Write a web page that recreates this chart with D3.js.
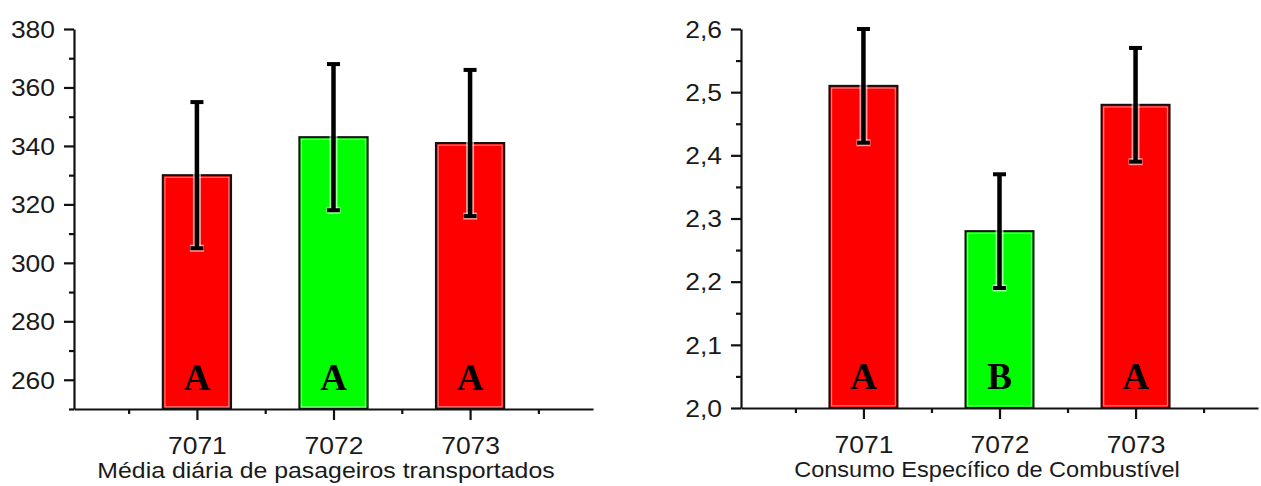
<!DOCTYPE html>
<html>
<head>
<meta charset="utf-8">
<script src="https://cdn.jsdelivr.net/npm/d3@7"></script>
<style>
  html, body { margin: 0; padding: 0; background: #fff; }
  svg { display: block; }
  .tick text { font-family: "Liberation Sans", Arial, sans-serif; fill: #1a1a1a; }
</style>
</head>
<body>
<svg id="chart" width="1261" height="486"></svg>
<script>
// Routes and their group letters
const routes = [7071, 7072, 7073];
const groupsPassengers = ["A", "A", "A"];
const groupsFuel = ["A", "B", "A"];
const barColors = ["#ff0000", "#00ff00", "#ff0000"];

// Average daily passengers carried, with standard deviation
const passengersMean = [330, 343, 341];
const passengersSd = [25, 25, 25];

// Specific fuel consumption, with standard deviation
const fuelMean = [2.51, 2.28, 2.48];
const fuelSd = [0.09, 0.09, 0.09];

// Axis ticks
const passengersMajor = [260, 280, 300, 320, 340, 360, 380];
const passengersMinor = [250, 270, 290, 310, 330, 350, 370];
const fuelMajor = [2.0, 2.1, 2.2, 2.3, 2.4, 2.5, 2.6];
const fuelMinor = [2.05, 2.15, 2.25, 2.35, 2.45, 2.55];
const routeMinor = [7070.5, 7071.5, 7072.5, 7073.5];

const passengersTitle = "Média diária de pasageiros transportados";
const fuelTitle = "Consumo Específico de Combustível";

const svg = d3.select("#chart");
const commaFmt = d => d3.format(".1f")(d).replace(".", ",");
const STRETCH = 1.15; // the sans-serif text is set slightly wide

// Widen tick labels horizontally around their anchor point
function widen(texts, s) {
  texts.each(function () {
    const t = d3.select(this);
    const tx = +t.attr("x") || 0;
    t.attr("x", 0).attr("transform", `translate(${tx},0) scale(${s},1)`);
  });
}

function panel(cfg) {
  const g = svg.append("g");
  const x = d3.scaleLinear().domain([7070.1, 7073.9]).range([cfg.x0, cfg.x1]);
  const y = d3.scaleLinear().domain(cfg.yDomain).range([cfg.yBottom, cfg.yTop]);
  const step = x(7072) - x(7071);
  const barW = step * 0.5;

  // Bars
  const bars = g.append("g");
  routes.forEach((r, i) => {
    const bx = x(r) - barW / 2;
    const by = y(cfg.mean[i]);
    const bh = y(cfg.yDomain[0]) - by;
    bars.append("rect")
      .attr("x", bx).attr("y", by).attr("width", barW).attr("height", bh)
      .attr("fill", barColors[i]).attr("stroke", "#111").attr("stroke-width", 2);
    bars.append("rect")
      .attr("x", bx + 2.2).attr("y", by + 2.2).attr("width", barW - 4.4).attr("height", bh - 4.4)
      .attr("fill", "none").attr("stroke", "#fff").attr("stroke-opacity", 0.55).attr("stroke-width", 1);
  });

  // Group letters
  routes.forEach((r, i) => {
    g.append("text")
      .attr("x", x(r)).attr("y", cfg.yBottom - 19)
      .attr("text-anchor", "middle")
      .attr("font-family", "'Liberation Serif', 'Times New Roman', serif")
      .attr("font-weight", "bold").attr("font-size", 37)
      .attr("fill", "#000")
      .text(cfg.groups[i]);
  });

  // Error bars
  const err = g.append("g");
  routes.forEach((r, i) => {
    const cx = x(r);
    const yt = y(cfg.mean[i] + cfg.sd[i]);
    const yb = y(cfg.mean[i] - cfg.sd[i]);
    const halo = (sel, w) => sel.attr("stroke", "#fff").attr("stroke-opacity", 0.6).attr("stroke-width", w);
    halo(err.append("line").attr("x1", cx).attr("x2", cx).attr("y1", yt).attr("y2", yb), 8);
    halo(err.append("line").attr("x1", cx - 7).attr("x2", cx + 7).attr("y1", yb).attr("y2", yb), 7);
    err.append("line").attr("x1", cx).attr("x2", cx).attr("y1", yt).attr("y2", yb)
      .attr("stroke", "#000").attr("stroke-width", 4.5);
    [yt, yb].forEach(yy => {
      err.append("line").attr("x1", cx - 6.5).attr("x2", cx + 6.5).attr("y1", yy).attr("y2", yy)
        .attr("stroke", "#000").attr("stroke-width", 4);
    });
  });

  // Y axis
  const yMaj = d3.axisLeft(y).tickValues(cfg.yMajor).tickSize(10).tickPadding(9)
    .tickFormat(cfg.yFormat).tickSizeOuter(0);
  const yMin = d3.axisLeft(y).tickValues(cfg.yMinor).tickSize(5).tickFormat("").tickSizeOuter(0);
  const gyMin = g.append("g").attr("transform", `translate(${cfg.x0},0)`).call(yMin);
  const gyMaj = g.append("g").attr("transform", `translate(${cfg.x0},0)`).call(yMaj);
  gyMin.select(".domain").remove();
  gyMaj.selectAll(".tick text").attr("font-size", 23).attr("dy", "0.36em");
  widen(gyMaj.selectAll(".tick text"), STRETCH);

  // X axis
  const xMaj = d3.axisBottom(x).tickValues(routes).tickSize(11).tickPadding(18)
    .tickFormat(d3.format("d")).tickSizeOuter(0);
  const xMin = d3.axisBottom(x).tickValues(routeMinor).tickSize(5).tickFormat("").tickSizeOuter(0);
  const gxMin = g.append("g").attr("transform", `translate(0,${cfg.yBottom})`).call(xMin);
  const gxMaj = g.append("g").attr("transform", `translate(0,${cfg.yBottom})`).call(xMaj);
  gxMin.select(".domain").remove();
  gxMaj.selectAll(".tick text").attr("font-size", 23);
  widen(gxMaj.selectAll(".tick text"), STRETCH);

  g.selectAll(".domain, .tick line").attr("stroke", "#111").attr("stroke-width", 2.2);

  // Axis title
  g.append("text")
    .attr("transform", `translate(${cfg.titleX},${cfg.yBottom + 69}) scale(${cfg.titleStretch},1)`)
    .attr("text-anchor", "middle")
    .attr("font-family", "'Liberation Sans', Arial, sans-serif")
    .attr("font-size", 22).attr("fill", "#1a1a1a")
    .text(cfg.title);
}

panel({
  x0: 74, x1: 593, yTop: 29, yBottom: 409,
  yDomain: [250, 380], yMajor: passengersMajor, yMinor: passengersMinor,
  yFormat: d3.format("d"),
  mean: passengersMean, sd: passengersSd, groups: groupsPassengers,
  title: passengersTitle, titleX: 326, titleStretch: 1.13
});

panel({
  x0: 741, x1: 1258, yTop: 29, yBottom: 408,
  yDomain: [2.0, 2.6], yMajor: fuelMajor, yMinor: fuelMinor,
  yFormat: commaFmt,
  mean: fuelMean, sd: fuelSd, groups: groupsFuel,
  title: fuelTitle, titleX: 987, titleStretch: 1.07
});
</script>
</body>
</html>
